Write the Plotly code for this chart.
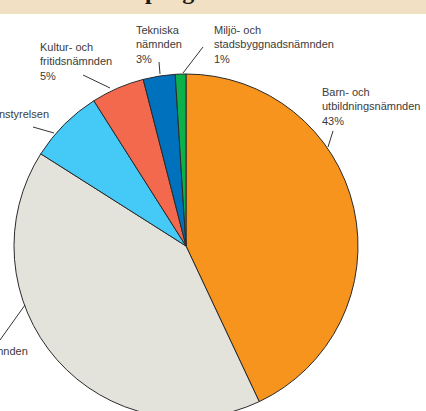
import plotly.graph_objects as go

# ---- data ----
categories = ["Barn- och utbildningsnämnden", "Socialnämnden", "Kommunstyrelsen",
              "Kultur- och fritidsnämnden", "Tekniska nämnden",
              "Miljö- och stadsbyggnadsnämnden"]
shares = [43, 41, 7, 5, 3, 1]
colors = ["#F7941D", "#E4E3DB", "#45C9F6", "#F2694E", "#0071BC", "#0DB14B"]
label_texts = [
    "Barn- och<br>utbildningsnämnden<br>43%",
    "Socialnämnden",
    "Kommunstyrelsen",
    "Kultur- och<br>fritidsnämnden<br>5%",
    "Tekniska<br>nämnden<br>3%",
    "Miljö- och<br>stadsbyggnadsnämnden<br>1%",
]
title_text = "Så fördelas pengarna"

W, H = 426, 420

def px(x):
    return x / W

def py(y):
    return (H - y) / H

# pie placement (pixels)
cx, cy, r = 186, 246, 172

fig = go.Figure(go.Pie(
    labels=categories, values=shares, sort=False, direction="clockwise", rotation=0,
    marker=dict(colors=colors, line=dict(color="#2a2a2a", width=1)),
    textinfo="none", hoverinfo="label+percent",
    domain=dict(x=[px(cx - r), px(cx + r)], y=[py(cy + r), py(cy - r)]),
    showlegend=False,
))

shapes = [dict(type="rect", xref="paper", yref="paper", x0=0, x1=1, y0=py(14), y1=1.02,
               fillcolor="#F1E0C4", line=dict(width=0), layer="below")]

# label layout: (x, y_top, anchor) in pixels, leader line (x0,y0,x1,y1)
label_layout = [
    (320, 84, "left", (333, 131, 328, 147)),
    (30, 343, "right", (0, 340, 25, 305)),
    (51, 106, "right", (33, 127, 54, 133)),
    (38, 39, "left", (83, 75, 110, 88)),
    (134, 22, "left", (159, 62, 160, 74)),
    (212, 22, "left", (203, 47, 183, 73)),
]

annotations = []
for txt, (lx, ly, anc, ln) in zip(label_texts, label_layout):
    annotations.append(dict(text=txt, xref="paper", yref="paper", x=px(lx), y=py(ly),
                            xanchor=anc, yanchor="top", align=anc, showarrow=False,
                            font=dict(family="Liberation Sans, Arial", size=11, color="#3b3b3b")))
    shapes.append(dict(type="line", xref="paper", yref="paper",
                       x0=px(ln[0]), y0=py(ln[1]), x1=px(ln[2]), y1=py(ln[3]),
                       line=dict(color="#333333", width=1)))

annotations.append(dict(text="<b>" + title_text + "</b>", xref="paper", yref="paper",
                        x=px(23), y=py(6), xanchor="left", yanchor="bottom", showarrow=False,
                        font=dict(family="Liberation Serif, Times New Roman", size=24, color="#1a1a1a")))

fig.update_layout(width=W, height=H, margin=dict(l=0, r=0, t=0, b=0),
                  paper_bgcolor="white", plot_bgcolor="white",
                  shapes=shapes, annotations=annotations)

fig.write_html("out.html", config={"displayModeBar": False},
               post_script="document.body.style.margin='0';document.body.style.overflow='hidden';document.documentElement.style.overflow='hidden';")
